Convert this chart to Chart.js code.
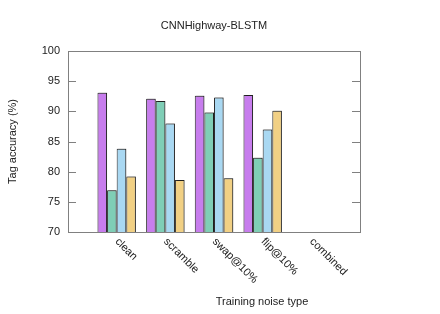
<!DOCTYPE html>
<html>
<head>
<meta charset="utf-8">
<script src="https://cdn.jsdelivr.net/npm/chart.js@4/dist/chart.umd.min.js"></script>
<style>
  html, body { margin: 0; padding: 0; background: #fff; }
  #wrap { width: 440px; height: 314px; }
</style>
</head>
<body>
<div id="wrap"><canvas id="chartContainer" width="440" height="314"></canvas></div>
<script>
// values
var categories = ['clean', 'scramble', 'swap@10%', 'flip@10%', 'combined'];
var series1 = [93.1, 92.1, 92.6, 92.7, null];
var series2 = [76.9, 91.7, 89.8, 82.3, null];
var series3 = [83.8, 88.0, 92.3, 87.0, null];
var series4 = [79.2, 78.6, 78.9, 90.1, null];
var yTicks = [70, 75, 80, 85, 90, 95, 100];

var FONT = '"Liberation Sans", Arial, sans-serif';

// blank slot at each end so the groups sit one slot in from the frame
function pad(arr) { return [null].concat(arr, [null]); }
var labels = [''].concat(categories, ['']);

function makeSet(name, values, color) {
    return {
        label: name,
        data: pad(values),
        backgroundColor: color,
        borderColor: '#2e2e2e',
        borderWidth: 1,
        borderSkipped: false,
        barPercentage: 1,
        categoryPercentage: 0.79
    };
}

var framePlugin = {
    id: 'frame',
    beforeDatasetsDraw: function(chart) {
        var ctx = chart.ctx;
        ctx.save();
        ctx.shadowColor = 'rgba(0,0,0,0.3)';
        ctx.shadowOffsetX = 1;
        ctx.shadowOffsetY = -1;
        ctx.shadowBlur = 0;
    },
    afterDatasetsDraw: function(chart) {
        chart.ctx.restore();
    },
    afterDraw: function(chart) {
        var ctx = chart.ctx;
        var a = chart.chartArea;
        var ys = chart.scales.y;
        var xs = chart.scales.x;
        ctx.save();
        ctx.strokeStyle = '#808080';
        ctx.lineWidth = 1;
        ctx.strokeRect(Math.round(a.left) + 0.5, Math.round(a.top) + 0.5,
            Math.round(a.right - a.left), Math.round(a.bottom - a.top));
        ctx.beginPath();
        yTicks.forEach(function(v) {
            var py = Math.round(ys.getPixelForValue(v)) + 0.5;
            ctx.moveTo(a.left, py); ctx.lineTo(a.left + 8, py);
            ctx.moveTo(a.right, py); ctx.lineTo(a.right - 8, py);
        });
        ctx.stroke();

        ctx.fillStyle = '#222';
        ctx.font = '11px ' + FONT;

        // title centred over the plot frame
        ctx.textAlign = 'center';
        ctx.textBaseline = 'middle';
        ctx.fillText('CNNHighway-BLSTM', (a.left + a.right) / 2, 26);

        // rotated category labels, running down to the right
        ctx.textAlign = 'left';
        ctx.textBaseline = 'top';
        categories.forEach(function(c, i) {
            var px = xs.getPixelForValue(i + 1);
            ctx.save();
            ctx.translate(px + 4, a.bottom + 4);
            ctx.rotate(Math.PI / 4);
            ctx.fillText(c, 0, 0);
            ctx.restore();
        });

        ctx.textAlign = 'center';
        ctx.textBaseline = 'middle';
        ctx.fillText('Training noise type', 262, 302);
        ctx.restore();
    }
};

new Chart(document.getElementById('chartContainer'), {
    type: 'bar',
    data: {
        labels: labels,
        datasets: [
            makeSet('s1', series1, '#c77ded'),
            makeSet('s2', series2, '#7fceb6'),
            makeSet('s3', series3, '#a9d8f2'),
            makeSet('s4', series4, '#f1d084')
        ]
    },
    options: {
        responsive: false,
        animation: false,
        layout: { padding: { top: 51, right: 80, left: 0, bottom: 0 } },
        plugins: {
            legend: { display: false },
            tooltip: { enabled: false },
            title: { display: false }
        },
        scales: {
            x: {
                offset: false,
                grid: { display: false },
                border: { display: false },
                ticks: { display: false },
                afterFit: function(s) { s.height = 82; }
            },
            y: {
                min: 70,
                max: 100,
                afterBuildTicks: function(s) {
                    s.ticks = yTicks.map(function(v) { return { value: v }; });
                },
                grid: { display: false },
                border: { display: false },
                ticks: {
                    color: '#222',
                    padding: 0,
                    font: { family: FONT, size: 11 }
                },
                title: {
                    display: true,
                    text: 'Tag accuracy (%)',
                    color: '#222',
                    font: { family: FONT, size: 11 },
                    padding: { top: 6, bottom: 0 }
                },
                afterFit: function(s) { s.width = 68; }
            }
        }
    },
    plugins: [framePlugin]
});
</script>
</body>
</html>
